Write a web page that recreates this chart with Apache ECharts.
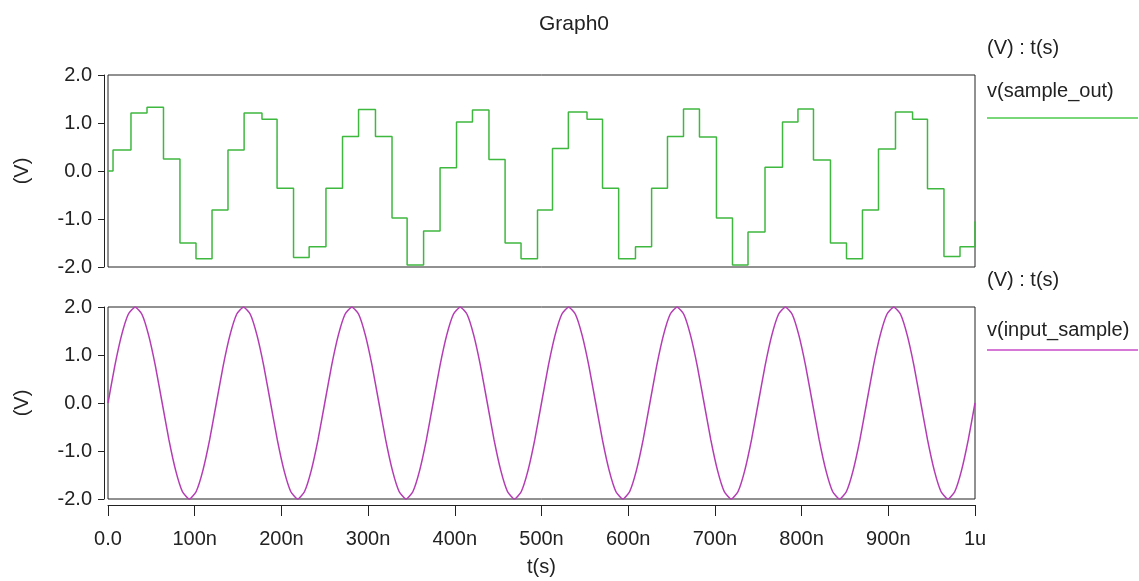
<!DOCTYPE html>
<html>
<head>
<meta charset="utf-8">
<script src="https://cdn.jsdelivr.net/npm/echarts@6/dist/echarts.min.js"></script>
<style>
  html, body { margin: 0; padding: 0; background: #fff; }
  #chart { width: 1139px; height: 581px; }
</style>
</head>
<body>
<div id="chart"></div>
<script>
// v(sample_out): 每个台阶开始的时间 (ns) 和保持的电平 (V)
const sampleTimes = [0, 5.8, 26.5, 45, 64, 83, 101.5, 120, 138.4, 157, 177.6, 195, 214, 232, 251.4,
  270.5, 289, 308.5, 327.6, 345, 364, 383, 402, 420.4, 439.4, 458, 476.4, 495.4, 512.7, 531,
  552.5, 570.4, 589, 608.4, 627, 645.3, 663.8, 682.2, 701.8, 720.3, 738.2, 757.8, 778, 795.8,
  813.7, 833.3, 851.8, 870.2, 888.7, 908.3, 928, 945.2, 964.2, 982.7, 1000];
const sampleLevels = [0, 0.44, 1.21, 1.33, 0.25, -1.5, -1.83, -0.81, 0.44, 1.21, 1.08, -0.36, -1.8, -1.58, -0.36,
  0.72, 1.28, 0.72, -0.98, -1.96, -1.25, 0.07, 1.02, 1.27, 0.24, -1.5, -1.83, -0.81, 0.47, 1.23,
  1.08, -0.36, -1.83, -1.58, -0.36, 0.72, 1.29, 0.71, -0.98, -1.96, -1.27, 0.08, 1.02, 1.29,
  0.23, -1.5, -1.83, -0.81, 0.46, 1.23, 1.08, -0.37, -1.78, -1.58, -1.05];

// v(input_sample): 每周期 16 个读数
const inputTimes = [
  0, 7.8, 15.6, 23.4, 31.3, 39.1, 46.9, 54.7, 62.5, 70.3, 78.1, 85.9, 93.8, 101.6, 109.4, 117.2,
  125, 132.8, 140.6, 148.4, 156.3, 164.1, 171.9, 179.7, 187.5, 195.3, 203.1, 210.9, 218.8, 226.6, 234.4, 242.2,
  250, 257.8, 265.6, 273.4, 281.3, 289.1, 296.9, 304.7, 312.5, 320.3, 328.1, 335.9, 343.8, 351.6, 359.4, 367.2,
  375, 382.8, 390.6, 398.4, 406.3, 414.1, 421.9, 429.7, 437.5, 445.3, 453.1, 460.9, 468.8, 476.6, 484.4, 492.2,
  500, 507.8, 515.6, 523.4, 531.3, 539.1, 546.9, 554.7, 562.5, 570.3, 578.1, 585.9, 593.8, 601.6, 609.4, 617.2,
  625, 632.8, 640.6, 648.4, 656.3, 664.1, 671.9, 679.7, 687.5, 695.3, 703.1, 710.9, 718.8, 726.6, 734.4, 742.2,
  750, 757.8, 765.6, 773.4, 781.3, 789.1, 796.9, 804.7, 812.5, 820.3, 828.1, 835.9, 843.8, 851.6, 859.4, 867.2,
  875, 882.8, 890.6, 898.4, 906.3, 914.1, 921.9, 929.7, 937.5, 945.3, 953.1, 960.9, 968.8, 976.6, 984.4, 992.2,
  1000];
const inputValues = [
  0, 0.77, 1.41, 1.85, 2.0, 1.85, 1.41, 0.77, 0, -0.77, -1.41, -1.85, -2.0, -1.85, -1.41, -0.77,
  0, 0.77, 1.41, 1.85, 2.0, 1.85, 1.41, 0.77, 0, -0.77, -1.41, -1.85, -2.0, -1.85, -1.41, -0.77,
  0, 0.77, 1.41, 1.85, 2.0, 1.85, 1.41, 0.77, 0, -0.77, -1.41, -1.85, -2.0, -1.85, -1.41, -0.77,
  0, 0.77, 1.41, 1.85, 2.0, 1.85, 1.41, 0.77, 0, -0.77, -1.41, -1.85, -2.0, -1.85, -1.41, -0.77,
  0, 0.77, 1.41, 1.85, 2.0, 1.85, 1.41, 0.77, 0, -0.77, -1.41, -1.85, -2.0, -1.85, -1.41, -0.77,
  0, 0.77, 1.41, 1.85, 2.0, 1.85, 1.41, 0.77, 0, -0.77, -1.41, -1.85, -2.0, -1.85, -1.41, -0.77,
  0, 0.77, 1.41, 1.85, 2.0, 1.85, 1.41, 0.77, 0, -0.77, -1.41, -1.85, -2.0, -1.85, -1.41, -0.77,
  0, 0.77, 1.41, 1.85, 2.0, 1.85, 1.41, 0.77, 0, -0.77, -1.41, -1.85, -2.0, -1.85, -1.41, -0.77,
  0];

const yTicks = [-2, -1, 0, 1, 2];
const xTickLabels = { 0: "0.0", 1000: "1u" };

const font = "Liberation Sans";
const axisColor = "#222";

const sampleData = sampleTimes.map((t, i) => [t, sampleLevels[i]]);
const inputData = inputTimes.map((t, i) => [t, inputValues[i]]);

const yAxisCommon = (gridIndex) => ({
  gridIndex: gridIndex,
  type: "value",
  min: yTicks[0],
  max: yTicks[yTicks.length - 1],
  interval: 1,
  offset: 4,
  name: "(V)",
  nameLocation: "middle",
  nameRotate: 90,
  nameGap: 72,
  nameTextStyle: { fontFamily: font, fontSize: 20, color: "#222" },
  axisLine: { show: true, onZero: false, lineStyle: { color: axisColor, width: 1 } },
  axisTick: { show: true, length: 6, lineStyle: { color: axisColor } },
  axisLabel: {
    margin: 12,
    fontFamily: font,
    fontSize: 20,
    color: "#222",
    formatter: (v) => v.toFixed(1),
  },
  splitLine: { show: false },
});

var myChart = echarts.init(document.getElementById("chart"));
myChart.setOption({
  animation: false,
  title: {
    text: "Graph0",
    left: 534,
    top: 9,
    textStyle: { fontFamily: font, fontSize: 21, fontWeight: "normal", color: "#222" },
  },
  grid: [
    { left: 108, top: 75, width: 867, height: 192, show: true, borderColor: axisColor, borderWidth: 1, backgroundColor: "#fff" },
    { left: 108, top: 307, width: 867, height: 192, show: true, borderColor: axisColor, borderWidth: 1, backgroundColor: "#fff" },
  ],
  xAxis: [
    {
      gridIndex: 0,
      type: "value",
      min: 0,
      max: 1000,
      interval: 100,
      show: false,
    },
    {
      gridIndex: 1,
      type: "value",
      min: 0,
      max: 1000,
      interval: 100,
      position: "bottom",
      offset: 6,
      name: "t(s)",
      nameLocation: "middle",
      nameGap: 52,
      nameTextStyle: { fontFamily: font, fontSize: 20, color: "#222" },
      axisLine: { show: true, onZero: false, lineStyle: { color: axisColor, width: 1 } },
      axisTick: { show: true, length: 11, lineStyle: { color: axisColor } },
      axisLabel: {
        margin: 24,
        fontFamily: font,
        fontSize: 20,
        color: "#222",
        formatter: (v) => xTickLabels[v] || v + "n",
      },
      splitLine: { show: false },
    },
  ],
  yAxis: [yAxisCommon(0), yAxisCommon(1)],
  graphic: [
    { type: "text", left: 987, top: 38, style: { text: "(V) : t(s)", fontFamily: font, fontSize: 20, fill: "#222" } },
    { type: "text", left: 987, top: 81, style: { text: "v(sample_out)", fontFamily: font, fontSize: 20, fill: "#222" } },
    { type: "line", shape: { x1: 987, y1: 118, x2: 1138, y2: 118 }, style: { stroke: "#4cc84c", lineWidth: 1.5 } },
    { type: "text", left: 987, top: 270, style: { text: "(V) : t(s)", fontFamily: font, fontSize: 20, fill: "#222" } },
    { type: "text", left: 987, top: 320, style: { text: "v(input_sample)", fontFamily: font, fontSize: 20, fill: "#222" } },
    { type: "line", shape: { x1: 987, y1: 350, x2: 1138, y2: 350 }, style: { stroke: "#c84cc8", lineWidth: 1.5 } },
  ],
  series: [
    {
      name: "v(sample_out)",
      type: "line",
      xAxisIndex: 0,
      yAxisIndex: 0,
      step: "end",
      symbol: "none",
      data: sampleData,
      lineStyle: { color: "#3fb83f", width: 1.5 },
    },
    {
      name: "v(input_sample)",
      type: "line",
      xAxisIndex: 1,
      yAxisIndex: 1,
      smooth: 0.15,
      symbol: "none",
      data: inputData,
      lineStyle: { color: "#b43cb4", width: 1.5 },
    },
  ],
});
</script>
</body>
</html>
